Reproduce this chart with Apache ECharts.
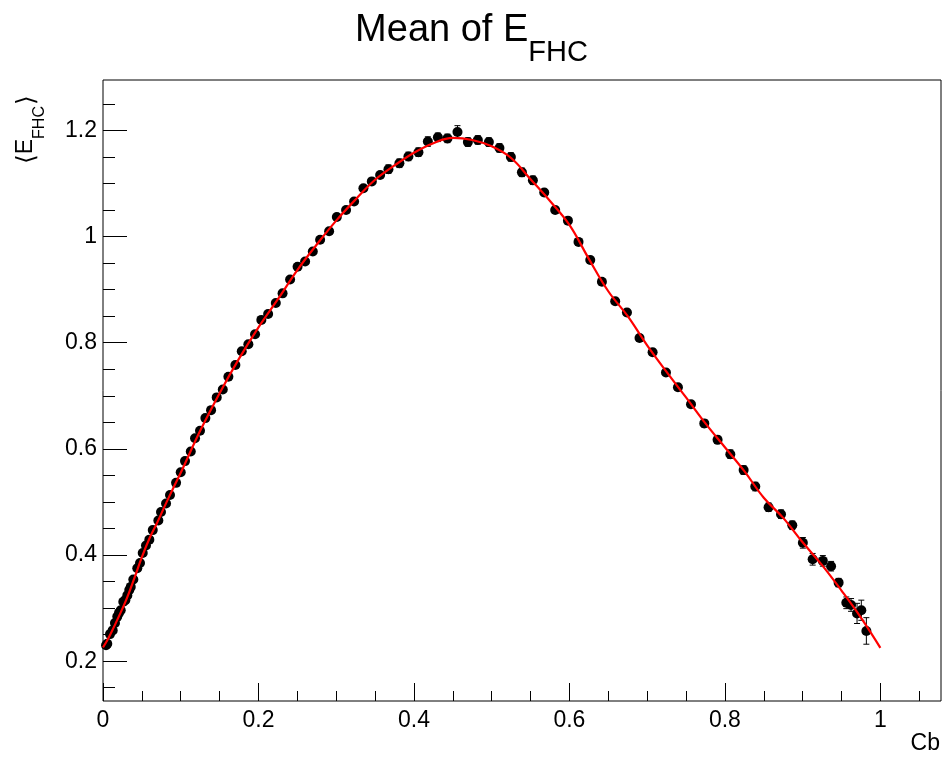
<!DOCTYPE html>
<html><head><meta charset="utf-8">
<script src="https://cdn.jsdelivr.net/npm/echarts@6/dist/echarts.min.js"></script>
<style>html,body{margin:0;padding:0;background:#fff}#c{width:943px;height:757px}</style>
</head><body><div id="c"></div>
<script>
// ---- data ----
const xVals = [0.0039,0.0055,0.0090,0.0125,0.0154,0.0184,0.0206,0.0228,0.0261,0.0287,
  0.0313,0.0338,0.0357,0.0390,0.0441,0.0476,0.0511,0.0553,0.0596,0.0640,
  0.0712,0.0746,0.0811,0.0862,0.0940,0.1000,0.1055,0.1129,0.1184,0.1248,
  0.1317,0.1390,0.1463,0.1541,0.1613,0.1703,0.1785,0.1870,0.1956,0.2037,
  0.2124,0.2223,0.2310,0.2407,0.2503,0.2600,0.2699,0.2793,0.2909,0.3008,
  0.3127,0.3230,0.3350,0.3458,0.3565,0.3672,0.3813,0.3929,0.4058,0.4179,
  0.4308,0.4431,0.4560,0.4694,0.4822,0.4964,0.5100,0.5247,0.5389,0.5530,
  0.5676,0.5817,0.5981,0.6117,0.6268,0.6418,0.6589,0.6740,0.6902,0.7070,
  0.7242,0.7396,0.7564,0.7735,0.7906,0.8070,0.8241,0.8391,0.8562,0.8722,
  0.8867,0.9003,0.9129,0.9260,0.9366,0.9463,0.9562,0.9623,0.9700,0.9755,0.9820];
const yVals = [0.230,0.233,0.251,0.258,0.272,0.284,0.291,0.296,0.312,0.315,
  0.324,0.334,0.340,0.354,0.375,0.385,0.404,0.418,0.429,0.447,
  0.465,0.481,0.497,0.513,0.536,0.556,0.577,0.595,0.620,0.634,
  0.658,0.673,0.697,0.712,0.736,0.758,0.784,0.797,0.816,0.843,
  0.854,0.875,0.893,0.919,0.943,0.953,0.972,0.994,1.010,1.037,
  1.050,1.066,1.091,1.104,1.116,1.127,1.138,1.151,1.159,1.179,
  1.187,1.185,1.197,1.178,1.182,1.178,1.167,1.150,1.121,1.106,
  1.083,1.050,1.030,0.990,0.956,0.915,0.878,0.857,0.809,0.782,
  0.744,0.716,0.684,0.648,0.617,0.590,0.560,0.529,0.490,0.477,
  0.456,0.423,0.392,0.389,0.379,0.348,0.310,0.306,0.290,0.296,0.257];
const yErr = [0.005,0.005,0.005,0.005,0.005,0.005,0.005,0.005,0.005,0.005,
  0.004,0.004,0.004,0.004,0.004,0.004,0.004,0.004,0.004,0.004,
  0.004,0.004,0.004,0.004,0.004,0.004,0.004,0.004,0.004,0.004,
  0.004,0.004,0.004,0.004,0.004,0.004,0.004,0.004,0.004,0.004,
  0.005,0.005,0.005,0.005,0.005,0.005,0.005,0.005,0.005,0.005,
  0.005,0.005,0.005,0.005,0.005,0.008,0.008,0.008,0.008,0.009,
  0.008,0.008,0.012,0.008,0.008,0.008,0.008,0.008,0.008,0.008,
  0.006,0.006,0.006,0.006,0.006,0.006,0.006,0.006,0.006,0.006,
  0.006,0.006,0.006,0.007,0.007,0.008,0.008,0.008,0.008,0.008,
  0.008,0.010,0.011,0.010,0.009,0.008,0.011,0.012,0.019,0.019,0.025];
const fitX = [0,0.005,0.01,0.02,0.03,0.04,0.05,0.06,0.07,0.08,0.09,0.1,
  0.125,0.15,0.175,0.2,0.225,0.25,0.275,0.3,0.325,0.35,0.375,0.4,0.425,0.45,
  0.475,0.5,0.525,0.55,0.575,0.6,0.625,0.65,0.675,0.7,0.725,0.75,0.775,0.8,
  0.825,0.85,0.875,0.9,0.925,0.95,0.975,1.0];
const fitY = [0.226,0.238,0.252,0.283,0.316,0.355,0.396,0.432,0.462,0.494,0.525,0.555,
  0.634,0.705,0.770,0.829,0.882,0.937,0.985,1.030,1.070,1.107,1.134,1.158,1.176,1.186,
  1.182,1.170,1.148,1.108,1.067,1.022,0.958,0.897,0.850,0.795,0.745,0.697,0.648,0.603,
  0.558,0.508,0.470,0.424,0.381,0.333,0.282,0.225];
const xMajorTicks = [0,0.2,0.4,0.6,0.8,1];
const xMinorTicks = [0.05,0.1,0.15,0.25,0.3,0.35,0.45,0.5,0.55,0.65,0.7,0.75,0.85,0.9,0.95,1.05];
const yMajorTicks = [0.2,0.4,0.6,0.8,1,1.2];
const yMinorTicks = [0.15,0.25,0.3,0.35,0.45,0.5,0.55,0.65,0.7,0.75,0.85,0.9,0.95,1.05,1.1,1.15,1.25];
const titleMain = 'Mean of E';
const titleSub = 'FHC';
const yTitleParts = ['\u27E8', 'E', 'FHC', '\u27E9'];
const xTitle = 'Cb';

// ---- layout ----
const FONT = '"Liberation Sans", Arial, Helvetica, sans-serif';
const grid = {left:103, right:2, top:80, bottom:56};
const xMin = 0, xMax = 1.078, yMin = 0.125, yMax = 1.295;

const mctx = document.createElement('canvas').getContext('2d');
function tw(t, size, fam){ mctx.font = size + 'px ' + (fam || FONT); return mctx.measureText(t).width; }
function midY(baseline, fs){ return baseline - 0.3465*fs; }

const chart = echarts.init(document.getElementById('c'), null, {renderer:'canvas'});

const TS = 38, SS = 29;
const tW = tw(titleMain, TS) + tw(titleSub, SS);
const tX = 471.5 - tW/2;

// y title (rotated group)
const YF = 23, YS = 16;
const brW = tw(yTitleParts[0], YF+2, 'DejaVu Sans');
const eW = tw(yTitleParts[1], YF);
const subW = tw(yTitleParts[2], YS);
const yBase = 34, ySubBase = 45;

const graphics = [
  {type:'text', x:tX, y:midY(44,TS), style:{text:titleMain, fontSize:TS, fontFamily:FONT, fill:'#000', align:'left', verticalAlign:'middle'}},
  {type:'text', x:tX + tw(titleMain,TS), y:midY(63,SS), style:{text:titleSub, fontSize:SS, fontFamily:FONT, fill:'#000', align:'left', verticalAlign:'middle'}},
  {type:'group', x:0, y:164, rotation:Math.PI/2, children:[
    {type:'text', x:0, y:midY(yBase+2,YF+2), style:{text:yTitleParts[0], fontSize:YF+2, fontFamily:'DejaVu Sans', fill:'#000', align:'left', verticalAlign:'middle'}},
    {type:'text', x:brW, y:midY(yBase,YF), style:{text:yTitleParts[1], fontSize:YF, fontFamily:FONT, fill:'#000', align:'left', verticalAlign:'middle'}},
    {type:'text', x:brW+eW, y:midY(ySubBase,YS), style:{text:yTitleParts[2], fontSize:YS, fontFamily:FONT, fill:'#000', align:'left', verticalAlign:'middle'}},
    {type:'text', x:brW+eW+subW+1, y:midY(yBase+2,YF+2), style:{text:yTitleParts[3], fontSize:YF+2, fontFamily:'DejaVu Sans', fill:'#000', align:'left', verticalAlign:'middle'}}
  ]},
  {type:'text', x:940, y:midY(752,23), style:{text:xTitle, fontSize:23, fontFamily:FONT, fill:'#000', align:'right', verticalAlign:'middle'}}
];

const baseX = {type:'value', min:xMin, max:xMax, position:'bottom', axisLine:{show:false}, splitLine:{show:false}};
const baseY = {type:'value', min:yMin, max:yMax, position:'left', axisLine:{show:false}, splitLine:{show:false}};

const option = {
  animation:false,
  backgroundColor:'#fff',
  grid:Object.assign({show:true, borderColor:'#000', borderWidth:1, backgroundColor:'transparent'}, grid),
  graphic:graphics,
  xAxis:[
    Object.assign({}, baseX, {
      axisTick:{show:true, inside:true, length:18, customValues:xMajorTicks, lineStyle:{color:'#000', width:1}},
      axisLabel:{show:true, customValues:xMajorTicks, formatter:v=>String(v), fontSize:23, fontFamily:FONT, color:'#000', margin:8}
    }),
    Object.assign({}, baseX, {
      axisTick:{show:true, inside:true, length:10, customValues:xMinorTicks, lineStyle:{color:'#000', width:1}},
      axisLabel:{show:false}
    })
  ],
  yAxis:[
    Object.assign({}, baseY, {
      axisTick:{show:true, inside:true, length:24, customValues:yMajorTicks, lineStyle:{color:'#000', width:1}},
      axisLabel:{show:true, customValues:yMajorTicks, formatter:v=>String(v), fontSize:23, fontFamily:FONT, color:'#000', margin:6}
    }),
    Object.assign({}, baseY, {
      axisTick:{show:true, inside:true, length:12, customValues:yMinorTicks, lineStyle:{color:'#000', width:1}},
      axisLabel:{show:false}
    })
  ],
  series:[
    {
      type:'custom', xAxisIndex:0, yAxisIndex:0, z:2,
      data:xVals.map((x,i)=>[x, yVals[i]-yErr[i], yVals[i]+yErr[i]]),
      renderItem:function(params, api){
        const x = api.value(0);
        const lo = api.coord([x, api.value(1)]);
        const hi = api.coord([x, api.value(2)]);
        const st = {stroke:'#000', lineWidth:1};
        return {type:'group', children:[
          {type:'line', shape:{x1:lo[0], y1:lo[1], x2:hi[0], y2:hi[1]}, style:st},
          {type:'line', shape:{x1:lo[0]-3, y1:lo[1], x2:lo[0]+3, y2:lo[1]}, style:st},
          {type:'line', shape:{x1:hi[0]-3, y1:hi[1], x2:hi[0]+3, y2:hi[1]}, style:st}
        ]};
      }
    },
    {
      type:'scatter', xAxisIndex:0, yAxisIndex:0, z:3,
      data:xVals.map((x,i)=>[x, yVals[i]]),
      symbol:'circle', symbolSize:10,
      itemStyle:{color:'#000', opacity:1}
    },
    {
      type:'line', xAxisIndex:0, yAxisIndex:0, z:4,
      data:fitX.map((x,i)=>[x, fitY[i]]),
      smooth:0.4, showSymbol:false, symbol:'none',
      lineStyle:{color:'#ff0000', width:2.2}
    }
  ]
};
chart.setOption(option);
</script>
</body></html>
